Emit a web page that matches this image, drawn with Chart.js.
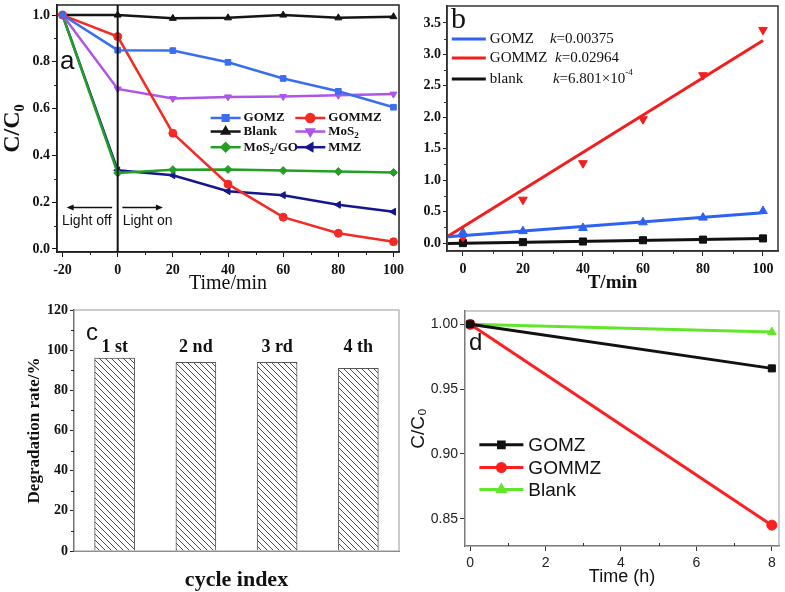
<!DOCTYPE html>
<html>
<head>
<meta charset="utf-8">
<script src="https://cdn.jsdelivr.net/npm/chart.js@4.4.0/dist/chart.umd.min.js"></script>
<style>
    body { margin: 0; background: #fff; width: 785px; height: 592px; position: relative; overflow: hidden; }
    canvas { position: absolute; }
</style>
</head>
<body>
<canvas id="chartA" width="412" height="292" style="left:0;top:0"></canvas>
<canvas id="chartB" width="390" height="292" style="left:395px;top:0"></canvas>
<canvas id="chartC" width="412" height="297" style="left:0;top:295px"></canvas>
<canvas id="chartD" width="390" height="297" style="left:395px;top:295px"></canvas>
<script>
// ---- Panel a: C/C0 vs time ----
const aTime = [-20, 0, 20, 40, 60, 80, 100];
const aGOMZ = [1.0, 0.85, 0.848, 0.798, 0.729, 0.674, 0.606];
const aGOMMZ = [1.0, 0.908, 0.495, 0.277, 0.136, 0.067, 0.031];
const aBlank = [1.0, 1.0, 0.986, 0.988, 1.0, 0.988, 0.993];
const aMoS2 = [1.0, 0.684, 0.643, 0.65, 0.652, 0.657, 0.662];
const aMoS2GO = [1.0, 0.325, 0.339, 0.34, 0.335, 0.331, 0.327];
const aMMZ = [1.0, 0.336, 0.315, 0.247, 0.23, 0.189, 0.159];
const aXTicks = [-20, 0, 20, 40, 60, 80, 100];
const aYTicks = [0, 0.2, 0.4, 0.6, 0.8, 1.0];

// ---- Panel b: kinetics fit ----
const bTime = [0, 20, 40, 60, 80, 100];
const bGOMZ = [0.17, 0.19, 0.24, 0.33, 0.405, 0.51];
const bGOMMZ = [0.09, 0.69, 1.27, 1.97, 2.67, 3.39];
const bBlank = [0.0, 0.015, 0.025, 0.045, 0.055, 0.074];
const bFitTime = [-5, 100];
const bFitGOMZ = [0.10, 0.484];
const bFitGOMMZ = [0.11, 3.22];
const bFitBlank = [-0.005, 0.072];
const bNames = ['GOMZ', 'GOMMZ', 'blank'];
const bK = ['=0.00375', '=0.02964', '=6.801×10'];
const bKExp = ['', '', '-4'];
const bXTicks = [0, 20, 40, 60, 80, 100];
const bYTicks = [0, 0.5, 1.0, 1.5, 2.0, 2.5, 3.0, 3.5];

// ---- Panel c: cycles ----
const cCycles = ['1 st', '2 nd', '3 rd', '4 th'];
const cRate = [96, 94, 94, 91];
const cYTicks = [0, 20, 40, 60, 80, 100, 120];

// ---- Panel d: dark test ----
const dTime = [0, 8];
const dGOMZ = [1.0, 0.966];
const dGOMMZ = [1.0, 0.845];
const dBlank = [1.0, 0.994];
const dXTicks = [0, 2, 4, 6, 8];
const dYTicks = [0.85, 0.90, 0.95, 1.00];

const SERIF = '"Liberation Serif", "Times New Roman", serif';
const SANS = '"Liberation Sans", Arial, sans-serif';

Chart.defaults.animation = false;
Chart.defaults.responsive = false;
Chart.defaults.devicePixelRatio = 1;
Chart.defaults.plugins.legend.display = false;
Chart.defaults.plugins.tooltip.enabled = false;
Chart.defaults.color = '#111';

// place the plot area of each canvas where it sits in the figure
function areaLayout(region, area) {
    return {
        padTop: area.t - region.top,
        padRight: region.left + region.width - area.r,
        yWidth: area.l - region.left,
        xHeight: region.top + region.height - area.b
    };
}
const fitX = L => s => { s.height = L.xHeight; s.paddingLeft = 0; s.paddingRight = 0; };
const fitY = L => s => { s.width = L.yWidth; s.paddingTop = 0; s.paddingBottom = 0; };
const setTicks = vals => s => { s.ticks = vals.map(v => ({ value: v })); };
const midpoints = vals => vals.slice(1).map((v, i) => (v + vals[i]) / 2);
const pts = (xs, ys) => xs.map((x, i) => ({ x: x, y: ys[i] }));

// box around the plot + minor ticks
const frame = {
    id: 'frame',
    afterDatasetsDraw(chart, args, o) {
        const { ctx, chartArea: a, scales } = chart;
        ctx.save();
        ctx.strokeStyle = o.color;
        ctx.lineWidth = o.width;
        ctx.strokeRect(a.left, a.top, a.right - a.left, a.bottom - a.top);
        ctx.strokeStyle = o.tickColor || o.color;
        ctx.lineWidth = 1;
        ctx.beginPath();
        const dir = o.minorIn ? -1 : 1;
        (o.minorX || []).forEach(v => {
            const px = Math.round(scales.x.getPixelForValue(v)) + 0.5;
            ctx.moveTo(px, a.bottom);
            ctx.lineTo(px, a.bottom + 3 * dir);
        });
        (o.minorY || []).forEach(v => {
            const py = Math.round(scales.y.getPixelForValue(v)) + 0.5;
            ctx.moveTo(a.left, py);
            ctx.lineTo(a.left - 3 * dir, py);
        });
        ctx.stroke();
        ctx.restore();
    }
};

function drawRich(ctx, x, y, pieces) {
    let cx = x;
    pieces.forEach(p => {
        ctx.font = p.font;
        ctx.fillText(p.t, cx, y + (p.dy || 0));
        cx += ctx.measureText(p.t).width;
    });
}

function line(ctx, x1, y1, x2, y2) {
    ctx.beginPath();
    ctx.moveTo(x1, y1);
    ctx.lineTo(x2, y2);
    ctx.stroke();
}

function arrow(ctx, x1, y, x2) {
    const d = Math.sign(x2 - x1);
    line(ctx, x1, y, x2 - d * 4, y);
    ctx.beginPath();
    ctx.moveTo(x2, y);
    ctx.lineTo(x2 - d * 7, y - 3);
    ctx.lineTo(x2 - d * 7, y + 3);
    ctx.closePath();
    ctx.fill();
}

function marker(ctx, ds, x, y, r) {
    ctx.fillStyle = ds.backgroundColor;
    ctx.strokeStyle = ds.borderColor;
    Chart.helpers.drawPoint(ctx, {
        pointStyle: ds.pointStyle, rotation: ds.pointRotation || 0,
        radius: r || ds.pointRadius, borderWidth: 1
    }, x, y);
}

function tickFont(family, size, weight) {
    return { family: family, size: size, weight: weight };
}

// ================= Panel a =================
const aSeries = [
    { name: 'GOMZ', values: aGOMZ, color: '#3a6df0', marker: 'rect', rot: 0 },
    { name: 'GOMMZ', values: aGOMMZ, color: '#f42a24', marker: 'circle', rot: 0 },
    { name: 'Blank', values: aBlank, color: '#151515', marker: 'triangle', rot: 0 },
    { name: 'MoS2', values: aMoS2, color: '#ad55ea', marker: 'triangle', rot: 180 },
    { name: 'MoS2/GO', values: aMoS2GO, color: '#22a024', marker: 'rectRot', rot: 0 },
    { name: 'MMZ', values: aMMZ, color: '#16168c', marker: 'triangle', rot: -90 }
];

const annotA = {
    id: 'annotA',
    afterDatasetsDraw(chart, args, o) {
        const { ctx, chartArea: a, scales: { x, y } } = chart;
        ctx.save();
        ctx.strokeStyle = '#111';
        ctx.fillStyle = '#111';
        ctx.lineWidth = 2;
        const x0 = x.getPixelForValue(0);
        line(ctx, x0, a.top, x0, a.bottom);

        // light off / light on
        ctx.lineWidth = 1.5;
        const ay = y.getPixelForValue(o.arrowY);
        arrow(ctx, x.getPixelForValue(-2), ay, x.getPixelForValue(-18.5));
        arrow(ctx, x.getPixelForValue(1.7), ay, x.getPixelForValue(16.4));
        ctx.font = '14px ' + SANS;
        ctx.textBaseline = 'middle';
        ctx.fillText('Light off', x.getPixelForValue(-20.2), y.getPixelForValue(o.textY));
        ctx.fillText('Light on', x.getPixelForValue(1.8), y.getPixelForValue(o.textY));

        // panel letter
        ctx.font = '26px ' + SANS;
        ctx.textBaseline = 'alphabetic';
        ctx.fillText('a', a.left + 3, a.top + 64);

        // legend, 2 columns x 3 rows
        ctx.textBaseline = 'middle';
        chart.data.datasets.forEach((ds, i) => {
            const col = i % 2, row = Math.floor(i / 2);
            const lx = x.getPixelForValue(o.colX[col]);
            const ly = y.getPixelForValue(o.rowY[row]);
            ctx.strokeStyle = ds.borderColor;
            ctx.lineWidth = 2.5;
            line(ctx, lx, ly, lx + 30, ly);
            marker(ctx, ds, lx + 15, ly);
            ctx.fillStyle = '#111';
            const parts = ds.label.split(/(?<=MoS)(2)/);
            drawRich(ctx, lx + 33, ly, parts.map((t, k) => k % 2
                ? { t: t, font: 'bold 9px ' + SERIF, dy: 4 }
                : { t: t, font: 'bold 13px ' + SERIF }));
        });
        ctx.restore();
    }
};

const LA = areaLayout({ left: 0, top: 0, width: 412, height: 292 }, { l: 57, t: 4, r: 399, b: 252 });
new Chart(document.getElementById('chartA'), {
    type: 'line',
    data: {
        datasets: aSeries.map(s => ({
            label: s.name,
            data: pts(aTime, s.values),
            borderColor: s.color,
            backgroundColor: s.color,
            borderWidth: 2.5,
            pointStyle: s.marker,
            pointRotation: s.rot,
            pointRadius: 4,
            pointBorderWidth: 1
        }))
    },
    options: {
        layout: { padding: { top: LA.padTop, right: LA.padRight, left: 0, bottom: 0 } },
        scales: {
            x: {
                type: 'linear', min: -22, max: 102,
                afterBuildTicks: setTicks(aXTicks), afterFit: fitX(LA),
                ticks: { font: tickFont(SERIF, 14, 'bold'), padding: 5, maxRotation: 0 },
                grid: { drawOnChartArea: false, tickLength: 5, color: '#111' },
                border: { color: '#111', width: 1.5 },
                title: { display: true, text: 'Time/min', font: { family: SERIF, size: 20, lineHeight: 1 }, padding: { top: 0, bottom: -2 } }
            },
            y: {
                min: -0.013, max: 1.043,
                afterBuildTicks: setTicks(aYTicks), afterFit: fitY(LA),
                ticks: { font: tickFont(SERIF, 14, 'bold'), padding: 2, callback: v => v.toFixed(1) },
                grid: { drawOnChartArea: false, tickLength: 5, color: '#111' },
                border: { color: '#111', width: 1.5 },
                title: { display: true, text: 'C/C₀', font: { family: SERIF, size: 24, weight: 'bold', lineHeight: 1 }, padding: { top: 1, bottom: 0 } }
            }
        },
        plugins: {
            frame: { color: '#222', width: 1.5, minorX: midpoints(aXTicks), minorY: midpoints(aYTicks) },
            annotA: { arrowY: 0.177, textY: 0.12, colX: [33.7, 64.4], rowY: [0.56, 0.502, 0.435] }
        }
    },
    plugins: [frame, annotA]
});

// ================= Panel b =================
const bSeries = [
    { fit: bFitGOMZ, pts: bGOMZ, color: '#2e62f2', marker: 'triangle', rot: 0 },
    { fit: bFitGOMMZ, pts: bGOMMZ, color: '#f21e1e', marker: 'triangle', rot: 180 },
    { fit: bFitBlank, pts: bBlank, color: '#111111', marker: 'rect', rot: 0 }
];

const annotB = {
    id: 'annotB',
    afterDatasetsDraw(chart, args, o) {
        const { ctx, chartArea: a, scales: { x, y } } = chart;
        ctx.save();
        ctx.fillStyle = '#111';
        ctx.font = '30px ' + SERIF;
        ctx.fillText('b', a.left + 4, a.top + 22);
        ctx.textBaseline = 'middle';
        bSeries.forEach((s, i) => {
            const ly = o.rowY[i];
            const lx = x.getPixelForValue(o.lineX);
            ctx.strokeStyle = s.color;
            ctx.lineWidth = 3;
            line(ctx, lx, ly, lx + 34, ly);
            ctx.fillStyle = '#111';
            ctx.font = '15px ' + SERIF;
            ctx.fillText(bNames[i], lx + 38, ly);
            const pieces = [
                { t: 'k', font: 'italic 15px ' + SERIF },
                { t: bK[i], font: '15px ' + SERIF }
            ];
            if (bKExp[i]) pieces.push({ t: bKExp[i], font: '9px ' + SERIF, dy: -6 });
            drawRich(ctx, x.getPixelForValue(o.kX[i]), ly, pieces);
        });
        ctx.restore();
    }
};

const LB = areaLayout({ left: 395, top: 0, width: 390, height: 292 }, { l: 447, t: 4, r: 778, b: 251 });
const bDatasets = [];
bSeries.forEach(s => {
    bDatasets.push({
        data: pts(bFitTime, s.fit), borderColor: s.color, borderWidth: 3, pointRadius: 0
    });
});
bSeries.forEach(s => {
    bDatasets.push({
        data: pts(bTime, s.pts), showLine: false, borderColor: s.color, backgroundColor: s.color,
        pointStyle: s.marker, pointRotation: s.rot, pointRadius: 5, pointBorderWidth: 1
    });
});
new Chart(document.getElementById('chartB'), {
    type: 'line',
    data: { datasets: bDatasets },
    options: {
        layout: { padding: { top: LB.padTop, right: LB.padRight, left: 0, bottom: 0 } },
        scales: {
            x: {
                type: 'linear', min: -5.3, max: 105,
                afterBuildTicks: setTicks(bXTicks), afterFit: fitX(LB),
                ticks: { font: tickFont(SERIF, 14, 'bold'), padding: 5, maxRotation: 0 },
                grid: { drawOnChartArea: false, tickLength: 5, color: '#222' },
                border: { color: '#222', width: 1.5 },
                title: { display: true, text: 'T/min', font: { family: SERIF, size: 19, weight: 'bold', lineHeight: 1 }, padding: { top: 0, bottom: -1 } }
            },
            y: {
                min: -0.126, max: 3.77,
                afterBuildTicks: setTicks(bYTicks), afterFit: fitY(LB),
                ticks: { font: tickFont(SERIF, 14, 'bold'), padding: 2, callback: v => v.toFixed(1) },
                grid: { drawOnChartArea: false, tickLength: 4, color: '#222' },
                border: { color: '#222', width: 1.5 }
            }
        },
        plugins: {
            frame: { color: '#333', width: 1.5, minorX: midpoints(bXTicks), minorY: midpoints(bYTicks) },
            annotB: { rowY: [39, 58, 79], lineX: -3.7, kX: [29, 30.7, 30] }
        }
    },
    plugins: [frame, annotB]
});

// ================= Panel c =================
function hatch() {
    const c = document.createElement('canvas');
    c.width = 6; c.height = 6;
    const g = c.getContext('2d');
    g.fillStyle = '#fff';
    g.fillRect(0, 0, 6, 6);
    g.strokeStyle = '#3a3a3a';
    g.lineWidth = 0.9;
    g.beginPath();
    g.moveTo(-1, -1); g.lineTo(7, 7);
    g.moveTo(-1, 5); g.lineTo(1, 7);
    g.moveTo(5, -1); g.lineTo(7, 1);
    g.stroke();
    return g.createPattern(c, 'repeat');
}

const annotC = {
    id: 'annotC',
    afterDatasetsDraw(chart, args, o) {
        const { ctx, chartArea: a, scales: { x, y } } = chart;
        ctx.save();
        ctx.fillStyle = '#111';
        ctx.font = '24px ' + SANS;
        ctx.fillText('c', a.left + 12, a.top + 30);
        ctx.font = 'bold 18px ' + SERIF;
        ctx.textAlign = 'center';
        ctx.textBaseline = 'middle';
        cCycles.forEach((lab, i) => ctx.fillText(lab, x.getPixelForValue(i), y.getPixelForValue(o.labelY)));
        ctx.restore();
    }
};

const LC = areaLayout({ left: 0, top: 295, width: 412, height: 297 }, { l: 74, t: 310, r: 399, b: 551 });
new Chart(document.getElementById('chartC'), {
    type: 'bar',
    data: {
        labels: cCycles,
        datasets: [{
            data: cRate, backgroundColor: hatch(), borderColor: '#555', borderWidth: 1, barThickness: 40
        }]
    },
    options: {
        layout: { padding: { top: LC.padTop, right: LC.padRight, left: 0, bottom: 0 } },
        scales: {
            x: {
                afterFit: fitX(LC),
                ticks: { display: false },
                grid: { display: false },
                border: { color: '#666', width: 1 },
                title: { display: true, text: 'cycle index', font: { family: SERIF, size: 22, weight: 'bold', lineHeight: 1 }, padding: { top: 0, bottom: 1 } }
            },
            y: {
                min: 0, max: 120,
                afterBuildTicks: setTicks(cYTicks), afterFit: fitY(LC),
                ticks: { font: tickFont(SERIF, 14, 'bold'), padding: 2 },
                grid: { drawOnChartArea: false, tickLength: 4, color: '#222' },
                border: { color: '#222', width: 1.2 },
                title: { display: true, text: 'Degradation rate/%', font: { family: SERIF, size: 17, weight: 'bold', lineHeight: 1 }, padding: { top: 26, bottom: 0 } }
            }
        },
        plugins: {
            frame: { color: '#a5a9b0', width: 1.2, tickColor: '#222', minorY: midpoints(cYTicks) },
            annotC: { labelY: 101.6 }
        }
    },
    plugins: [frame, annotC]
});

// ================= Panel d =================
const dSeries = [
    { name: 'GOMZ', values: dGOMZ, color: '#111111', marker: 'rect' },
    { name: 'GOMMZ', values: dGOMMZ, color: '#ff1f1f', marker: 'circle' },
    { name: 'Blank', values: dBlank, color: '#62e62c', marker: 'triangle' }
];

const annotD = {
    id: 'annotD',
    afterDatasetsDraw(chart, args, o) {
        const { ctx, chartArea: a, scales: { x, y } } = chart;
        ctx.save();
        ctx.fillStyle = '#111';
        ctx.font = '24px ' + SANS;
        ctx.fillText('d', a.left + 4, a.top + 39);
        ctx.textBaseline = 'middle';
        chart.data.datasets.forEach((ds, i) => {
            const lx = x.getPixelForValue(o.lineX);
            const ly = y.getPixelForValue(o.rowY[i]);
            ctx.strokeStyle = ds.borderColor;
            ctx.lineWidth = 3;
            line(ctx, lx, ly, lx + 44, ly);
            marker(ctx, ds, lx + 22, ly, 4);
            ctx.fillStyle = '#111';
            ctx.font = '19px ' + SANS;
            ctx.fillText(ds.label, lx + 49, ly + 1);
        });
        ctx.restore();
    }
};

const LD = areaLayout({ left: 395, top: 295, width: 390, height: 297 }, { l: 465, t: 311, r: 781, b: 546 });
new Chart(document.getElementById('chartD'), {
    type: 'line',
    data: {
        datasets: dSeries.map(s => ({
            label: s.name,
            data: pts(dTime, s.values),
            borderColor: s.color,
            backgroundColor: s.color,
            borderWidth: 3,
            pointStyle: s.marker,
            pointRadius: 5,
            pointBorderWidth: 1
        }))
    },
    options: {
        layout: { padding: { top: LD.padTop, right: LD.padRight, left: 0, bottom: 0 } },
        scales: {
            x: {
                type: 'linear', min: -0.136, max: 8.19,
                afterBuildTicks: setTicks(dXTicks), afterFit: fitX(LD),
                ticks: { font: tickFont(SANS, 14, 'normal'), padding: 4, color: '#222', maxRotation: 0 },
                grid: { drawOnChartArea: false, tickLength: 5, color: '#333' },
                border: { color: '#333', width: 1.2 },
                title: { display: true, text: 'Time (h)', font: { family: SANS, size: 18, lineHeight: 1 }, padding: { top: 0, bottom: 6 } }
            },
            y: {
                min: 0.8289, max: 1.0103,
                afterBuildTicks: setTicks(dYTicks), afterFit: fitY(LD),
                ticks: { font: tickFont(SANS, 14, 'normal'), padding: 2, color: '#222', callback: v => v.toFixed(2) },
                grid: { drawOnChartArea: false, tickLength: 5, color: '#333' },
                border: { color: '#333', width: 1.2 },
                title: { display: true, text: 'C/C₀', font: { family: SANS, size: 19, lineHeight: 1 }, padding: { top: 14, bottom: 0 } }
            }
        },
        plugins: {
            frame: { color: '#a5a9b0', width: 1.2, tickColor: '#333', minorIn: true, minorX: midpoints(dXTicks) },
            annotD: { lineX: 0.245, rowY: [0.907, 0.8895, 0.8725] }
        }
    },
    plugins: [frame, annotD]
});
</script>
</body>
</html>
